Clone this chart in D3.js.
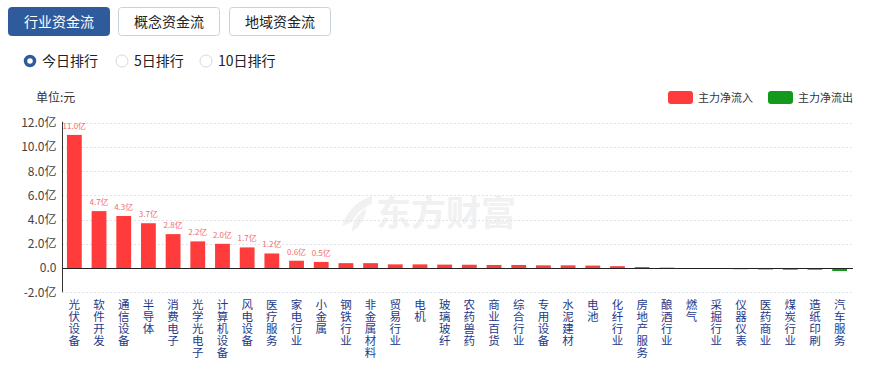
<!DOCTYPE html>
<html>
<head>
<meta charset="utf-8">
<script src="https://cdn.jsdelivr.net/npm/d3@7"></script>
<style>
  body { margin: 0; background: #fff; font-family: "Microsoft YaHei", "Noto Sans CJK SC", sans-serif; }
</style>
</head>
<body>
<div id="main"></div>
<script>
// categories and net flow (亿元)
var categories = ["光伏设备", "软件开发", "通信设备", "半导体", "消费电子", "光学光电子", "计算机设备",
    "风电设备", "医疗服务", "家电行业", "小金属", "钢铁行业", "非金属材料", "贸易行业", "电机",
    "玻璃玻纤", "农药兽药", "商业百货", "综合行业", "专用设备", "水泥建材", "电池", "化纤行业",
    "房地产服务", "酿酒行业", "燃气", "采掘行业", "仪器仪表", "医药商业", "煤炭行业", "造纸印刷", "汽车服务"];
var values = [11.0, 4.7, 4.3, 3.7, 2.8, 2.2, 2.0, 1.7, 1.2, 0.6, 0.5, 0.4, 0.4, 0.3, 0.3,
    0.28, 0.27, 0.25, 0.25, 0.22, 0.22, 0.2, 0.15, 0.08, 0.03, -0.03, -0.08, -0.1, -0.12, -0.14, -0.14, -0.25];
var yTicks = [-2, 0, 2, 4, 6, 8, 10, 12];
var tabs = ["行业资金流", "概念资金流", "地域资金流"];
var ranks = ["今日排行", "5日排行", "10日排行"];
var legendItems = ["主力净流入", "主力净流出"];

var ctx = {
    w: 874,
    h: 370,
    left: 62,
    right: 852,
    y0: 268,
    red: "#ff3b3b",
    green: "#13991b",
    font: "'Microsoft YaHei', 'Noto Sans CJK SC', sans-serif"
};

var svg = d3.select("#main").append("svg")
    .attr("width", ctx.w)
    .attr("height", ctx.h)
    .style("font-family", ctx.font);

// 1. tabs
var tabX = [8, 118, 229];
tabs.forEach(function(t, i) {
    var g = svg.append("g").attr("transform", "translate(" + tabX[i] + ",7)");
    g.append("rect")
        .attr("x", 0.5).attr("y", 0.5)
        .attr("width", 101).attr("height", 28)
        .attr("rx", 3)
        .attr("fill", i == 0 ? "#2f5b9c" : "#fff")
        .attr("stroke", i == 0 ? "#2f5b9c" : "#c9d3df");
    g.append("text")
        .attr("x", 51).attr("y", 19.5)
        .attr("text-anchor", "middle")
        .attr("font-size", 14)
        .attr("fill", i == 0 ? "#fff" : "#222")
        .text(t);
});

// 2. radios
var radioX = [30, 122, 206];
ranks.forEach(function(r, i) {
    svg.append("circle")
        .attr("cx", radioX[i]).attr("cy", 61)
        .attr("r", i == 0 ? 4.5 : 6)
        .attr("fill", "#fff")
        .attr("stroke", i == 0 ? "#2f5b9c" : "#d5dbe3")
        .attr("stroke-width", i == 0 ? 3.5 : 1);
    svg.append("text")
        .attr("x", radioX[i] + 12).attr("y", 66)
        .attr("font-size", 14)
        .attr("fill", "#222")
        .text(r);
});

svg.append("text")
    .attr("x", 36).attr("y", 102)
    .attr("font-size", 12)
    .attr("fill", "#333")
    .text("单位:元");

// 3. legend
var legX = [668, 768];
legendItems.forEach(function(l, i) {
    svg.append("rect")
        .attr("x", legX[i]).attr("y", 91)
        .attr("width", 25).attr("height", 13)
        .attr("rx", 3)
        .attr("fill", i == 0 ? ctx.red : ctx.green);
    svg.append("text")
        .attr("x", legX[i] + 30).attr("y", 102)
        .attr("font-size", 11)
        .attr("fill", "#333")
        .text(l);
});

// 4. watermark
var wm = svg.append("g").attr("fill", "#f1f1f1");
wm.append("path")
    .attr("d", "M372,196 C358,200 346,212 342,226 L352,222 C356,214 362,208 372,204 Z M366,208 C358,214 352,222 352,232 C360,226 366,218 366,208 Z");
wm.append("text")
    .attr("x", 376).attr("y", 226)
    .attr("font-size", 35)
    .attr("font-weight", "bold")
    .text("东方财富");

// 5. scales
var x = d3.scaleBand()
    .domain(categories)
    .range([ctx.left, ctx.right])
    .paddingInner(0.4)
    .paddingOuter(0.2);
var y = d3.scaleLinear()
    .domain([-2, 12])
    .range([ctx.y0 + 24.2, ctx.y0 - 6 * 24.2]);

// grid
svg.append("g")
    .selectAll("line")
    .data(yTicks.filter(function(d) { return d != 0; }))
    .enter()
    .append("line")
    .attr("x1", ctx.left).attr("x2", ctx.right + 1)
    .attr("y1", function(d) { return Math.round(y(d)) + 0.5; })
    .attr("y2", function(d) { return Math.round(y(d)) + 0.5; })
    .attr("stroke", "#dde3ea")
    .attr("stroke-dasharray", "2,2");

// y axis
var yAxis = svg.append("g")
    .attr("transform", "translate(" + (ctx.left + 0.5) + ",0)")
    .call(d3.axisLeft(y).tickValues(yTicks).tickSize(0).tickPadding(6)
        .tickFormat(function(d) { return d == 0 ? "0.0" : d.toFixed(1) + "亿"; }));
yAxis.select(".domain").attr("stroke", "#333").attr("d", "M0," + (y(12) - 1) + "V" + y(-2));
yAxis.selectAll("text")
    .attr("font-size", 12)
    .attr("font-family", ctx.font)
    .attr("fill", "#444");

// bars
svg.append("g")
    .selectAll("rect")
    .data(values)
    .enter()
    .append("rect")
    .attr("x", function(d, i) { return x(categories[i]); })
    .attr("width", x.bandwidth())
    .attr("y", function(d) { return d >= 0 ? y(d) : y(0); })
    .attr("height", function(d) { return Math.abs(y(d) - y(0)); })
    .attr("fill", function(d) { return d >= 0 ? ctx.red : ctx.green; });

// zero line
svg.append("line")
    .attr("x1", ctx.left).attr("x2", ctx.right + 1)
    .attr("y1", Math.round(y(0)) + 0.5).attr("y2", Math.round(y(0)) + 0.5)
    .attr("stroke", "#222");

// bar value labels (only the bigger ones)
svg.append("g")
    .selectAll("text")
    .data(values.filter(function(d) { return d >= 0.5; }))
    .enter()
    .append("text")
    .attr("x", function(d, i) { return x(categories[i]) + x.bandwidth() / 2; })
    .attr("y", function(d) { return y(d) - 6; })
    .attr("text-anchor", "middle")
    .attr("font-size", 8)
    .attr("fill", "#f26a6a")
    .text(function(d) { return d.toFixed(1) + "亿"; });

// x labels, one char per line
var xl = svg.append("g")
    .selectAll("text")
    .data(categories)
    .enter()
    .append("text")
    .attr("text-anchor", "middle")
    .attr("font-size", 11.5)
    .attr("fill", "#1e3a8a");
xl.selectAll("tspan")
    .data(function(d) { return d.split(""); })
    .enter()
    .append("tspan")
    .attr("x", function() { var c = d3.select(this.parentNode).datum(); return x(c) + x.bandwidth() / 2; })
    .attr("y", function(ch, j) { return 309 + j * 12; })
    .text(function(ch) { return ch; });
</script>
</body>
</html>
